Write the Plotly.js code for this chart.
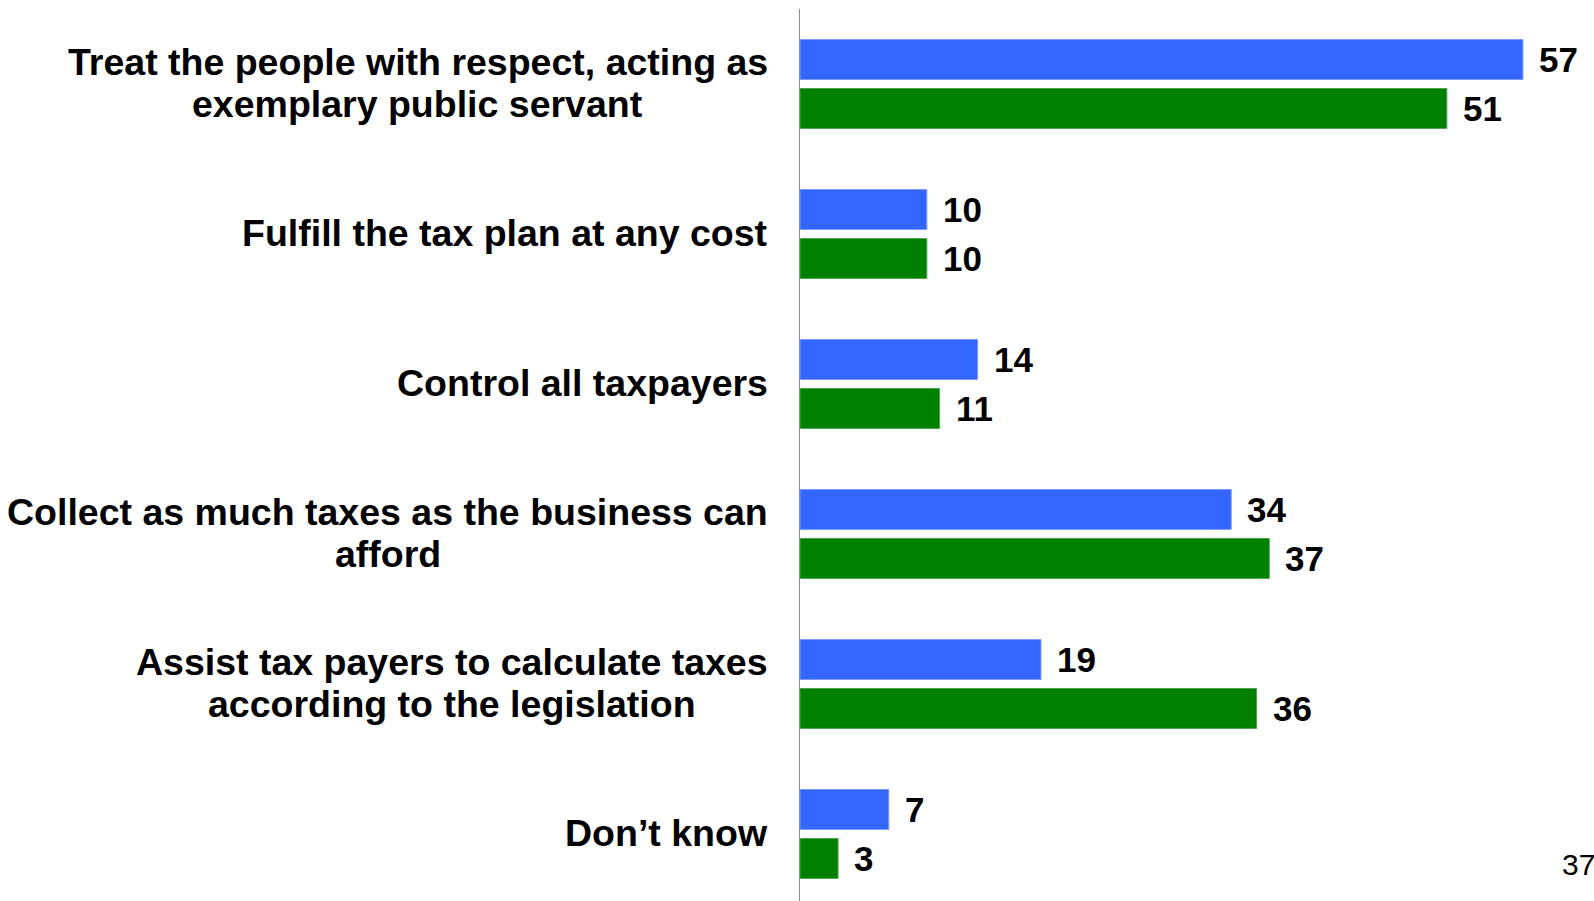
<!DOCTYPE html>
<html>
<head>
<meta charset="utf-8">
<script src="https://cdn.plot.ly/plotly-3.0.1.min.js"></script>
<style>html,body{margin:0;padding:0;background:#fff;}#chart{width:1594px;height:901px;}</style>
</head>
<body>
<div id="chart"></div>
<script>
// ---- data ----
const categories = [
  "Treat the people with respect, acting as<br>exemplary public servant",
  "Fulfill the tax plan at any cost",
  "Control all taxpayers",
  "Collect as much taxes as the business can<br>afford",
  "Assist tax payers to calculate taxes<br>according to the legislation",
  "Don\u2019t know"
];
const seriesBlue = [57, 10, 14, 34, 19, 7];
const seriesGreen = [51, 10, 11, 37, 36, 3];
const pageNumber = "37";

// ---- style ----
const FONT = "Arial, 'Liberation Sans', sans-serif";
const LABEL_SIZE = 37.5;
const LINE_SPACING = 42.5;
const LABEL_GAP = 32;
const BLUE = "#3366FF";
const GREEN = "#008000";
const idx = categories.map((c, i) => i);

const ctx = document.createElement("canvas").getContext("2d");
ctx.font = "bold " + LABEL_SIZE + "px Arial, 'Liberation Sans', sans-serif";

const traces = [
  {type: "bar", orientation: "h", y: idx, x: seriesBlue, name: "A",
   marker: {color: BLUE, line: {color: "#7d9bff", width: 1}}, hoverinfo: "none"},
  {type: "bar", orientation: "h", y: idx, x: seriesGreen, name: "B",
   marker: {color: GREEN, line: {color: "#4fa34f", width: 1}}, hoverinfo: "none"}
];

const annotations = [];
categories.forEach((c, i) => {
  const lines = c.split("<br>");
  const maxW = Math.max(...lines.map(l => ctx.measureText(l).width));
  lines.forEach((l, k) => {
    annotations.push({xref: "paper", yref: "y", x: 0, y: i, xanchor: "center", yanchor: "middle",
      xshift: -LABEL_GAP - maxW / 2, yshift: 1 - (k - (lines.length - 1) / 2) * LINE_SPACING,
      text: l, showarrow: false,
      font: {family: FONT, size: LABEL_SIZE, color: "#000", weight: "bold"}});
  });
});
const BAR_OFFSET = 24.7;
[[seriesBlue, -1], [seriesGreen, 1]].forEach(([s, sign]) => {
  s.forEach((v, i) => {
    annotations.push({xref: "x", yref: "y", x: v, y: i, xanchor: "left", yanchor: "middle",
      xshift: 14, yshift: -sign * BAR_OFFSET, text: String(v), showarrow: false,
      font: {family: FONT, size: 35, color: "#000", weight: "bold"}});
  });
});
annotations.push({xref: "paper", yref: "paper", x: 1, y: 0, xanchor: "left", yanchor: "middle",
  xshift: -1, yshift: 37, text: pageNumber, showarrow: false,
  font: {family: FONT, size: 30, color: "#000"}});

const layout = {
  width: 1594, height: 901,
  margin: {l: 800, r: 33, t: 9, b: 0, pad: 0},
  paper_bgcolor: "#fff", plot_bgcolor: "#fff",
  barmode: "group", bargap: 0.347, bargroupgap: 0.184,
  showlegend: false,
  xaxis: {range: [0, 60], showgrid: false, zeroline: false, showticklabels: false, showline: false, ticks: ""},
  yaxis: {type: "linear", range: [5.447, -0.5], showgrid: false, zeroline: false,
    showticklabels: false, ticks: "", showline: true, linecolor: "#8c8c8c", linewidth: 1.5},
  annotations: annotations
};

Plotly.newPlot("chart", traces, layout, {staticPlot: true, displayModeBar: false});
</script>
</body>
</html>
